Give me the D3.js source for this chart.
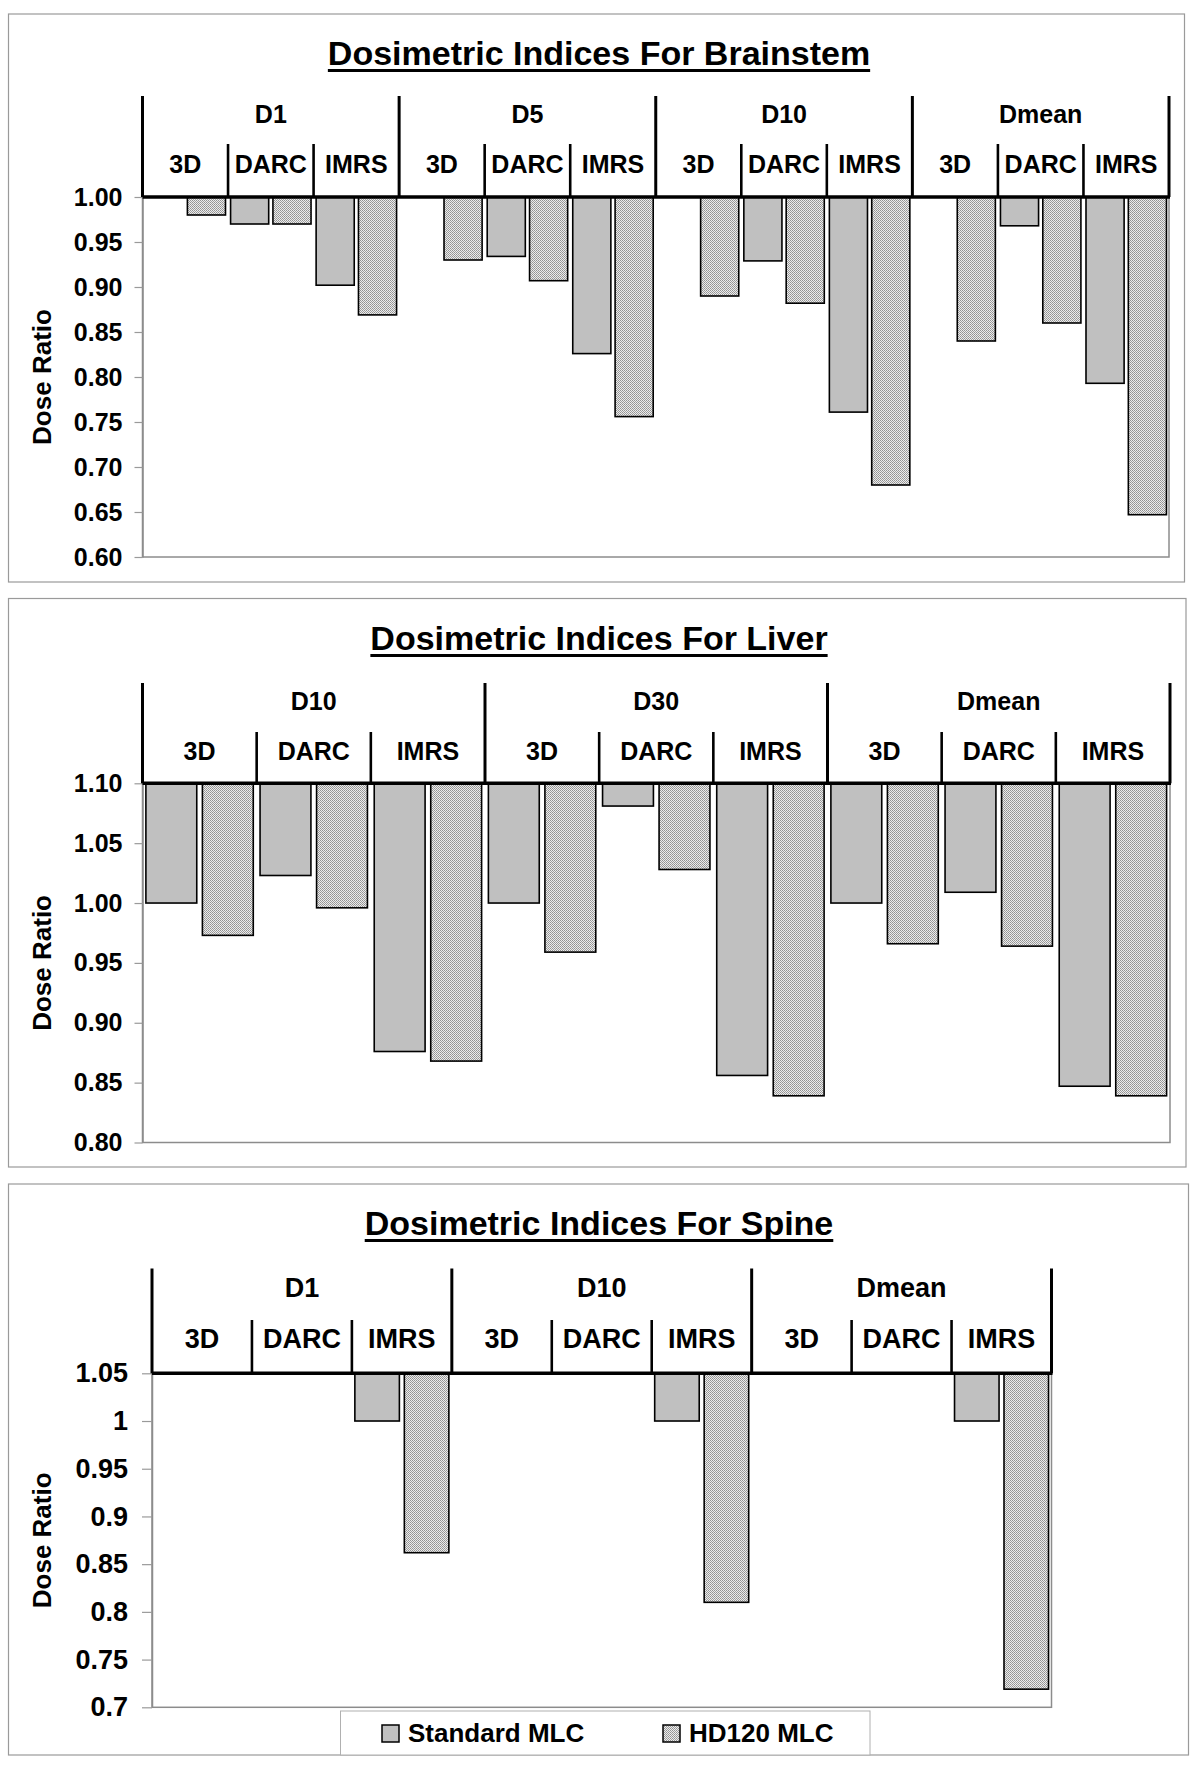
<!DOCTYPE html>
<html>
<head>
<meta charset="utf-8">
<script src="https://cdn.jsdelivr.net/npm/d3@7"></script>
<style>
  body { margin: 0; background: #fff; }
  svg text { font-family: "Liberation Sans", Arial, sans-serif; font-weight: bold; fill: #000; }
</style>
</head>
<body>
<svg id="chart" width="1200" height="1767"></svg>
<script>
// categories
var techniques = ["3D", "DARC", "IMRS"];
var seriesNames = ["Standard MLC", "HD120 MLC"];

var brainstemGroups = ["D1", "D5", "D10", "Dmean"];
var liverGroups = ["D10", "D30", "Dmean"];
var spineGroups = ["D1", "D10", "Dmean"];

// series values, one per (group, technique) slot
var brainstemStandard = [1.00, 0.970, 0.902, 1.00, 0.934, 0.826, 1.00, 0.929, 0.761, 1.00, 0.968, 0.793];
var brainstemHD120    = [0.980, 0.970, 0.869, 0.930, 0.907, 0.756, 0.890, 0.882, 0.680, 0.840, 0.860, 0.647];

var liverStandard = [1.00, 1.023, 0.876, 1.00, 1.081, 0.856, 1.00, 1.009, 0.847];
var liverHD120    = [0.973, 0.996, 0.868, 0.959, 1.028, 0.839, 0.966, 0.964, 0.839];

var spineStandard = [null, null, 1.00, null, null, 1.00, null, null, 1.00];
var spineHD120    = [null, null, 0.862, null, null, 0.810, null, null, 0.719];

// tick labels
var brainstemTicks = [0.60, 0.65, 0.70, 0.75, 0.80, 0.85, 0.90, 0.95, 1.00];
var liverTicks = [0.80, 0.85, 0.90, 0.95, 1.00, 1.05, 1.10];
var spineTicks = [0.7, 0.75, 0.8, 0.85, 0.9, 0.95, 1, 1.05];

var svg = d3.select('#chart');

// checker fill for the HD120 series
var defs = svg.append('defs');
var pat = defs.append('pattern')
    .attr('id', 'dots')
    .attr('patternUnits', 'userSpaceOnUse')
    .attr('width', 2).attr('height', 2);
pat.append('rect').attr('width', 2).attr('height', 2).attr('fill', '#ececec');
pat.append('rect').attr('width', 1).attr('height', 1).attr('fill', '#929292');
pat.append('rect').attr('x', 1).attr('y', 1).attr('width', 1).attr('height', 1).attr('fill', '#a0a0a0');

var seriesFill = { "Standard MLC": '#c0c0c0', "HD120 MLC": 'url(#dots)' };

function drawPanel(p) {
    // panel frame
    svg.append('rect')
        .attr('x', p.frame[0]).attr('y', p.frame[1])
        .attr('width', p.frame[2]).attr('height', p.frame[3])
        .attr('fill', 'none').attr('stroke', '#9a9a9a').attr('stroke-width', 1.2);

    var yScale = d3.scaleLinear()
        .domain([p.ticks[0], p.ticks[p.ticks.length - 1]])
        .range([p.bottom, p.top]);

    var slots = [];
    p.groups.forEach(function(g) {
        techniques.forEach(function(t) { slots.push(g + '|' + t); });
    });

    var x0 = d3.scaleBand().domain(slots).range([p.left, p.right]).padding(0);
    var x1 = d3.scaleBand().domain(seriesNames).range([0, x0.bandwidth()])
        .paddingInner(0.1).paddingOuter(0.06);
    var gx = d3.scaleBand().domain(p.groups).range([p.left, p.right]).padding(0);

    // plot area
    svg.append('rect')
        .attr('x', p.left).attr('y', p.top)
        .attr('width', p.right - p.left).attr('height', p.bottom - p.top)
        .attr('fill', 'none').attr('stroke', '#8c8c8c').attr('stroke-width', 1.5);

    // y axis
    var yAxis = d3.axisLeft(yScale)
        .tickValues(p.ticks)
        .tickFormat(p.fmt)
        .tickSize(p.tickSize).tickSizeOuter(0).tickPadding(p.tickPad);
    var ya = svg.append('g')
        .attr('transform', 'translate(' + p.left + ',0)')
        .call(yAxis);
    ya.select('.domain').attr('stroke', '#8c8c8c').attr('stroke-width', 1.5);
    ya.selectAll('.tick line').attr('stroke', '#9a9a9a').attr('stroke-width', 1.2);
    ya.selectAll('.tick text')
        .style('font-size', p.tickFont + 'px')
        .style('font-family', '"Liberation Sans", Arial, sans-serif')
        .style('font-weight', 'bold')
        .attr('fill', '#000');

    // bars hang from the category axis
    var base = yScale(p.ticks[p.ticks.length - 1]);
    var bars = [];
    slots.forEach(function(s, i) {
        bars.push({ slot: s, series: seriesNames[0], v: p.standard[i] });
        bars.push({ slot: s, series: seriesNames[1], v: p.hd[i] });
    });
    svg.append('g').selectAll('rect')
        .data(bars.filter(function(d) { return d.v != null && yScale(d.v) - base > 0.5; }))
        .enter()
        .append('rect')
        .attr('x', function(d) { return x0(d.slot) + x1(d.series); })
        .attr('y', base)
        .attr('width', x1.bandwidth())
        .attr('height', function(d) { return yScale(d.v) - base; })
        .attr('fill', function(d) { return seriesFill[d.series]; })
        .attr('stroke', '#000')
        .attr('stroke-width', 1.6);

    // category axis line
    svg.append('line')
        .attr('x1', p.left).attr('x2', p.right + 1)
        .attr('y1', base).attr('y2', base)
        .attr('stroke', '#000').attr('stroke-width', 3.5);

    // group separators
    var gBounds = p.groups.map(function(g) { return gx(g); }).concat([p.right]);
    svg.append('g').selectAll('line')
        .data(gBounds)
        .enter()
        .append('line')
        .attr('x1', function(d) { return d; }).attr('x2', function(d) { return d; })
        .attr('y1', p.groupTop).attr('y2', base)
        .attr('stroke', '#000').attr('stroke-width', 3);

    // technique separators
    var sBounds = slots.filter(function(s, i) { return i % 3 !== 0; });
    svg.append('g').selectAll('line')
        .data(sBounds)
        .enter()
        .append('line')
        .attr('x1', function(d) { return x0(d); }).attr('x2', function(d) { return x0(d); })
        .attr('y1', p.subTop).attr('y2', base)
        .attr('stroke', '#000').attr('stroke-width', 2.6);

    // group labels
    svg.append('g').selectAll('text')
        .data(p.groups)
        .enter()
        .append('text')
        .attr('x', function(d) { return gx(d) + gx.bandwidth() / 2; })
        .attr('y', p.groupLabelY)
        .attr('text-anchor', 'middle')
        .style('font-size', p.catFont + 'px')
        .text(function(d) { return d; });

    // technique labels
    svg.append('g').selectAll('text')
        .data(slots)
        .enter()
        .append('text')
        .attr('x', function(d) { return x0(d) + x0.bandwidth() / 2; })
        .attr('y', p.subLabelY)
        .attr('text-anchor', 'middle')
        .style('font-size', p.catFont + 'px')
        .text(function(d) { return d.split('|')[1]; });

    // title, underlined
    var title = svg.append('text')
        .attr('x', 599)
        .attr('y', p.titleY)
        .attr('text-anchor', 'middle')
        .style('font-size', '34px')
        .text(p.title);
    var tw = title.node().getComputedTextLength();
    svg.append('line')
        .attr('x1', 599 - tw / 2).attr('x2', 599 + tw / 2)
        .attr('y1', p.titleY + 5.5).attr('y2', p.titleY + 5.5)
        .attr('stroke', '#000').attr('stroke-width', 3);

    // y axis title
    svg.append('text')
        .attr('transform', 'rotate(-90)')
        .attr('x', -(p.top + p.bottom) / 2)
        .attr('y', 51)
        .attr('text-anchor', 'middle')
        .style('font-size', '26px')
        .text('Dose Ratio');
}

drawPanel({
    title: 'Dosimetric Indices For Brainstem',
    groups: brainstemGroups, standard: brainstemStandard, hd: brainstemHD120,
    ticks: brainstemTicks, fmt: d3.format('.2f'),
    frame: [8.5, 14, 1176, 568],
    left: 142.5, right: 1169, top: 197, bottom: 557,
    titleY: 65, groupTop: 96, subTop: 144, groupLabelY: 123, subLabelY: 172.5,
    tickSize: 8, tickPad: 12, tickFont: 25, catFont: 25
});

drawPanel({
    title: 'Dosimetric Indices For Liver',
    groups: liverGroups, standard: liverStandard, hd: liverHD120,
    ticks: liverTicks, fmt: d3.format('.2f'),
    frame: [8.5, 598.5, 1177.5, 568.5],
    left: 142.5, right: 1170, top: 783.3, bottom: 1142.5,
    titleY: 650, groupTop: 683, subTop: 732, groupLabelY: 710, subLabelY: 760,
    tickSize: 8, tickPad: 12, tickFont: 25, catFont: 25
});

drawPanel({
    title: 'Dosimetric Indices For Spine',
    groups: spineGroups, standard: spineStandard, hd: spineHD120,
    ticks: spineTicks, fmt: function(v) { return String(+v.toFixed(2)); },
    frame: [8.5, 1184, 1180, 571],
    left: 152, right: 1051.5, top: 1373.3, bottom: 1707.3,
    titleY: 1235, groupTop: 1268.5, subTop: 1320, groupLabelY: 1297, subLabelY: 1348,
    tickSize: 10, tickPad: 14, tickFont: 27, catFont: 27
});

// legend for the spine panel
var legend = svg.append('g');
legend.append('rect')
    .attr('x', 340.5).attr('y', 1711)
    .attr('width', 529.5).attr('height', 44)
    .attr('fill', '#fff').attr('stroke', '#b0b0b0').attr('stroke-width', 1);
var legendX = [382, 663];
seriesNames.forEach(function(name, i) {
    legend.append('rect')
        .attr('x', legendX[i]).attr('y', 1725)
        .attr('width', 17).attr('height', 17)
        .attr('fill', seriesFill[name])
        .attr('stroke', '#000').attr('stroke-width', 1.5);
    legend.append('text')
        .attr('x', legendX[i] + 26).attr('y', 1742)
        .style('font-size', '26px')
        .text(name);
});
</script>
</body>
</html>
